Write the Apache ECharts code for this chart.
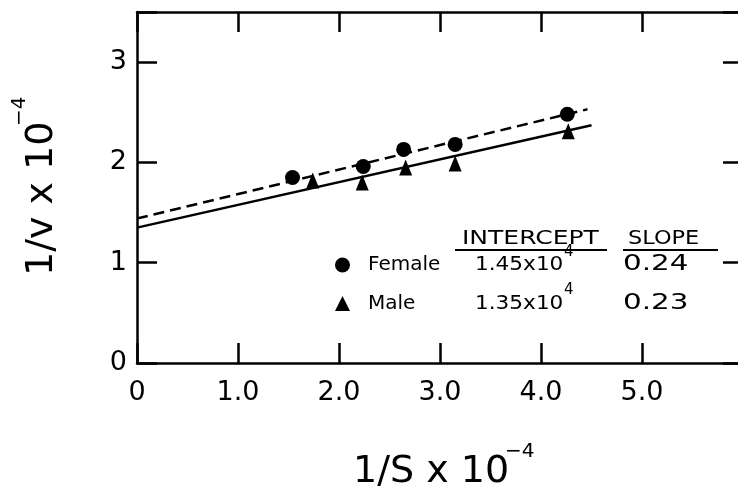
<!DOCTYPE html>
<html>
<head>
<meta charset="utf-8">
<script src="https://cdn.jsdelivr.net/npm/echarts/dist/echarts.min.js"></script>
<style>
  body { margin: 0; background: #fff; }
  #chart { width: 738px; height: 490px; }
</style>
</head>
<body>
<div id="chart"></div>
<script>
// values
const femaleX = [1.54, 2.24, 2.64, 3.15, 4.26];
const femaleY = [1.85, 1.96, 2.13, 2.18, 2.48];
const maleX = [1.74, 2.23, 2.66, 3.15, 4.27];
const maleY = [1.82, 1.80, 1.95, 1.99, 2.31];

// fitted lines, end points
const femaleFitX = [0, 4.46];
const femaleFitY = [1.44, 2.53];
const maleFitX = [0, 4.5];
const maleFitY = [1.35, 2.37];

const xTickLabels = ['0', '1.0', '2.0', '3.0', '4.0', '5.0'];
const yTickLabels = ['0', '1', '2', '3'];

const groups = ['Female', 'Male'];
const intercepts = ['1.45x10', '1.35x10'];
const slopes = ['0.24', '0.23'];

const FONT = '"DejaVu Sans", sans-serif';
const zip = (xs, ys) => xs.map((x, i) => [x, ys[i]]);

var myChart = echarts.init(document.getElementById('chart'), null, { renderer: 'canvas' });

const tickStyle = { show: true, inside: true, length: 20, lineStyle: { color: '#000', width: 2.5 } };
const lineStyle = { show: true, onZero: false, lineStyle: { color: '#000', width: 2.5 } };

var option = {
  animation: false,
  backgroundColor: '#fff',
  grid: { left: 137, top: 12, width: 606, height: 351, show: false, outerBoundsMode: 'none', containLabel: false },
  legend: {
    data: [{ name: 'Female', icon: 'circle' }, { name: 'Male', icon: 'triangle' }],
    orient: 'vertical',
    left: 335,
    top: 255,
    padding: 0,
    itemWidth: 15,
    itemHeight: 15,
    itemGap: 18.5,
    selectedMode: false,
    itemStyle: { color: '#000', opacity: 1 },
    textStyle: { fontSize: 20, lineHeight: 20, fontFamily: FONT, color: '#000', padding: [0, 0, 0, 13] }
  },
  xAxis: [
    {
      type: 'value', position: 'bottom', min: 0, max: 6, interval: 1,
      axisLine: lineStyle, axisTick: tickStyle, splitLine: { show: false },
      axisLabel: {
        fontSize: 27, fontFamily: FONT, color: '#000', margin: 16,
        formatter: v => xTickLabels[v] ?? ''
      }
    },
    {
      type: 'value', position: 'top', min: 0, max: 6, interval: 1,
      axisLine: lineStyle, axisTick: tickStyle, splitLine: { show: false },
      axisLabel: { show: false }
    }
  ],
  yAxis: [
    {
      type: 'value', position: 'left', min: 0, max: 3.5, interval: 1,
      axisLine: lineStyle, axisTick: tickStyle, splitLine: { show: false },
      axisLabel: {
        fontSize: 27, fontFamily: FONT, color: '#000', margin: 10,
        formatter: v => yTickLabels[v] ?? ''
      }
    },
    {
      type: 'value', position: 'right', min: 0, max: 3.5, interval: 1,
      axisLine: lineStyle, axisTick: tickStyle, splitLine: { show: false },
      axisLabel: { show: false }
    }
  ],
  series: [
    {
      name: 'Female fit', type: 'line', data: zip(femaleFitX, femaleFitY),
      showSymbol: false, silent: true, z: 2,
      lineStyle: { color: '#000', width: 2.5, type: [11, 6] }
    },
    {
      name: 'Male fit', type: 'line', data: zip(maleFitX, maleFitY),
      showSymbol: false, silent: true, z: 2,
      lineStyle: { color: '#000', width: 2.5, type: 'solid' }
    },
    {
      name: 'Female', type: 'scatter', data: zip(femaleX, femaleY),
      symbol: 'circle', symbolSize: 15, z: 3,
      itemStyle: { color: '#000', opacity: 1 }
    },
    {
      name: 'Male', type: 'scatter', data: zip(maleX, maleY),
      symbol: 'triangle', symbolSize: [13, 16], z: 3,
      itemStyle: { color: '#000', opacity: 1 }
    }
  ],
  graphic: [
    // x axis title
    { type: 'text', x: 353, y: 472, style: { text: '1/S x 10', font: '38px ' + FONT, fill: '#000', textAlign: 'left', textVerticalAlign: 'middle' } },
    { type: 'text', x: 505, y: 452, style: { text: '\u22124', font: '20px ' + FONT, fill: '#000', textAlign: 'left', textVerticalAlign: 'middle' } },
    // y axis title
    {
      type: 'group', x: 42, y: 276, rotation: Math.PI / 2,
      children: [
        { type: 'text', x: 0, y: 0, style: { text: '1/v x 10', font: '38px ' + FONT, fill: '#000', textAlign: 'left', textVerticalAlign: 'middle' } },
        { type: 'text', x: 150, y: -22, style: { text: '\u22124', font: '20px ' + FONT, fill: '#000', textAlign: 'left', textVerticalAlign: 'middle' } }
      ]
    },
    // table headings
    { type: 'text', x: 462, y: 239, scaleX: 1.25, style: { text: 'INTERCEPT', font: '20px ' + FONT, fill: '#000', textAlign: 'left', textVerticalAlign: 'middle' } },
    { type: 'line', shape: { x1: 455, y1: 250, x2: 607, y2: 250 }, style: { stroke: '#000', lineWidth: 2 } },
    { type: 'text', x: 628, y: 239, scaleX: 1.12, style: { text: 'SLOPE', font: '20px ' + FONT, fill: '#000', textAlign: 'left', textVerticalAlign: 'middle' } },
    { type: 'line', shape: { x1: 623, y1: 250, x2: 718, y2: 250 }, style: { stroke: '#000', lineWidth: 2 } }
  ].concat(
    groups.flatMap((g, i) => {
      const cy = 265 + i * 38.5;
      return [
        { type: 'text', x: 475, y: cy, scaleX: 1.08, style: { text: intercepts[i], font: '20px ' + FONT, fill: '#000', textAlign: 'left', textVerticalAlign: 'middle' } },
        { type: 'text', x: 564, y: cy - 13, style: { text: '4', font: '15px ' + FONT, fill: '#000', textAlign: 'left', textVerticalAlign: 'middle' } },
        { type: 'text', x: 623, y: cy, scaleX: 1.4, style: { text: slopes[i], font: '21px ' + FONT, fill: '#000', textAlign: 'left', textVerticalAlign: 'middle' } }
      ];
    })
  )
};

myChart.setOption(option);
</script>
</body>
</html>
